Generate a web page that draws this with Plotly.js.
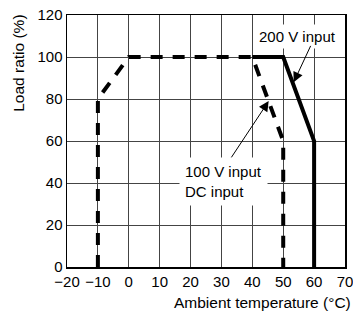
<!DOCTYPE html>
<html>
<head>
<meta charset="utf-8">
<script src="https://cdn.plot.ly/plotly-3.0.1.min.js"></script>
<style>html,body{margin:0;padding:0;background:#fff;}#chart{width:353px;height:314px;}</style>
</head>
<body>
<div id="chart"></div>
<script>
// Derating curves (ambient temperature °C vs load ratio %)
const dcTemp = [-10, -10, 0, 40, 50, 50];      // 100 V input / DC input
const dcLoad = [0, 80, 100, 100, 60, 0];
const acTemp = [40, 50, 60, 60];               // 200 V input
const acLoad = [100, 100, 60, 0];
const xTicks = [-20, -10, 0, 10, 20, 30, 40, 50, 60, 70];
const yTicks = [0, 20, 40, 60, 80, 100, 120];

const FONT = 'Liberation Sans, Arial, sans-serif';

const traces = [
  {x: dcTemp, y: dcLoad, mode: 'lines', line: {color: '#000', width: 4, dash: '12px,10px'}, hoverinfo: 'skip'},
  {x: acTemp, y: acLoad, mode: 'lines', line: {color: '#000', width: 4}, hoverinfo: 'skip'}
];

const axisCommon = {
  showgrid: true, gridcolor: '#444', gridwidth: 1,
  zeroline: false, showline: true, linecolor: '#000', linewidth: 1.5, mirror: true,
  ticks: '', tickfont: {family: FONT, size: 15, color: '#000'}, fixedrange: true
};

const layout = {
  width: 353, height: 314,
  margin: {l: 67, r: 8, t: 15, b: 47},
  paper_bgcolor: '#fff', plot_bgcolor: '#fff',
  showlegend: false,
  font: {family: FONT, size: 15, color: '#000'},
  xaxis: Object.assign({}, axisCommon, {range: [-20, 70.001], tickmode: 'array', tickvals: xTicks, ticklabeloverflow: 'allow'}),
  yaxis: Object.assign({}, axisCommon, {range: [0, 120.001], tickmode: 'array', tickvals: yTicks}),
  annotations: [
    {xref: 'paper', yref: 'paper', x: -0.173, y: 0.81, text: 'Load ratio (%)', textangle: -90,
     showarrow: false, xanchor: 'center', yanchor: 'middle', font: {family: FONT, size: 15.5, color: '#000'}},
    {xref: 'paper', yref: 'paper', x: 0.705, y: -0.139, text: 'Ambient temperature (°C)',
     showarrow: false, xanchor: 'center', yanchor: 'middle', font: {family: FONT, size: 15.5, color: '#000'}},
    {x: 54.7, y: 109.8, text: '200 V input', showarrow: false, bgcolor: '#fff', borderpad: 3,
     xanchor: 'center', yanchor: 'middle', font: {family: FONT, size: 15, color: '#000'}},
    {x: 30.6, y: 40.5, text: '100 V input<br>DC input', align: 'left', showarrow: false, bgcolor: '#fff', borderpad: 5,
     xanchor: 'center', yanchor: 'middle', font: {family: FONT, size: 15, color: '#000'}},
    {x: 53.4, y: 88, ax: 59.1, ay: 106, axref: 'x', ayref: 'y', text: '', showarrow: true,
     arrowhead: 2, arrowsize: 2, arrowwidth: 1, arrowcolor: '#000', standoff: 0, startstandoff: 0},
    {x: 45.3, y: 79, ax: 32.9, ay: 51.5, axref: 'x', ayref: 'y', text: '', showarrow: true,
     arrowhead: 2, arrowsize: 2, arrowwidth: 1, arrowcolor: '#000', standoff: 0, startstandoff: 0}
  ]
};

Plotly.newPlot('chart', traces, layout, {staticPlot: true, displayModeBar: false});
</script>
</body>
</html>
